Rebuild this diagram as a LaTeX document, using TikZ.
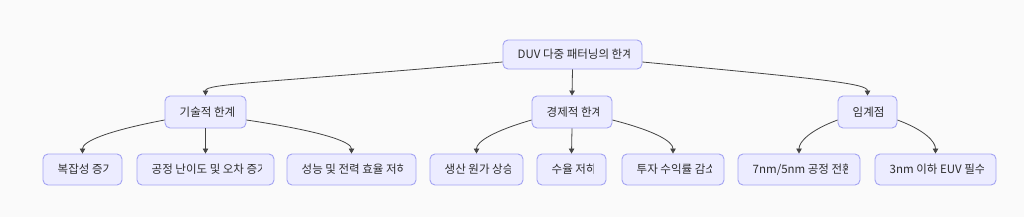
\documentclass[tikz,border=0pt]{standalone}
\usepackage{fontspec}
\setmainfont{Noto Sans CJK KR}
\usetikzlibrary{arrows.meta}
\definecolor{bgc}{HTML}{FAFAFA}
\definecolor{boxfill}{HTML}{ECECFF}
\definecolor{boxline}{HTML}{A3A3F2}
\definecolor{txtc}{HTML}{2E2E2E}
\definecolor{edgec}{HTML}{444444}
\tikzset{
  boxst/.style={draw=boxline, fill=boxfill, line width=0.9pt, rounded corners=5pt, inner sep=0pt},
  txt/.style={inner sep=0pt, text=txtc, font=\fontsize{11.5}{13.5}\selectfont},
  edge/.style={draw=edgec, line width=0.8pt, -{Triangle[length=5pt,width=5.5pt]}}
}
\newcommand{\dnode}[6]{%
  \pgfmathsetmacro\dw{#4-#2}\pgfmathsetmacro\dh{#5-#3}%
  \pgfmathsetmacro\dcx{(#2+#4)/2}\pgfmathsetmacro\dcy{(#3+#5)/2}%
  \node[boxst, minimum width=\dw pt, minimum height=\dh pt] (#1) at (\dcx,\dcy) {};
  \begin{scope}
    \clip (#2+14,#3) rectangle (#4-13,#5);
    \node[txt, anchor=west] at (#2+14.5,\dcy) {#6};
  \end{scope}}
\begin{document}
\begin{tikzpicture}[x=1pt,y=-1pt]
\useasboundingbox (0,0) rectangle (1024,217);
\fill[bgc] (0,0) rectangle (1024,217);
\dnode{top}{503}{40}{642}{69}{DUV 다중 패터닝의 한계}
\dnode{tech}{165}{96}{246}{128}{기술적 한계}
\dnode{econ}{532}{96}{612}{128}{경제적 한계}
\dnode{crit}{838}{96}{897}{128}{임계점}
\dnode{la}{43}{154}{122}{185}{복잡성 증가}
\dnode{lb}{137}{154}{274}{185}{공정 난이도 및 오차 증가}
\dnode{lc}{287}{154}{416}{185}{성능 및 전력 효율 저하}
\dnode{ld}{430}{154}{523}{185}{생산 원가 상승}
\dnode{le}{537}{154}{606}{185}{수율 저하}
\dnode{lf}{622}{154}{724}{185}{투자 수익률 감소}
\dnode{lg}{738}{154}{860}{185}{7nm/5nm 공정 전환}
\dnode{lh}{875}{154}{996}{185}{3nm 이하 EUV 필수}
% edges
\draw[edge] ([yshift=-7.5pt]top.west) .. controls +(-240,21) and +(0,-12) .. (tech.north);
\draw[edge] (top.south) -- (econ.north);
\draw[edge] ([yshift=-7.5pt]top.east) .. controls +(180,17) and +(0,-12) .. (crit.north);
\draw[edge] ([yshift=-8pt]tech.west) .. controls +(-58,11) and +(0,-12) .. (la.north);
\draw[edge] (tech.south) -- (lb.north);
\draw[edge] ([yshift=-8pt]tech.east) .. controls +(74,11) and +(0,-12) .. (lc.north);
\draw[edge] ([yshift=-8pt]econ.west) .. controls +(-38,11) and +(0,-12) .. (ld.north);
\draw[edge] (econ.south) -- (le.north);
\draw[edge] ([yshift=-8pt]econ.east) .. controls +(43,11) and +(0,-12) .. (lf.north);
\draw[edge] ([yshift=-8pt]crit.west) .. controls +(-27,10) and +(0,-12) .. (lg.north);
\draw[edge] ([yshift=-8pt]crit.east) .. controls +(27,10) and +(0,-12) .. (lh.north);
\end{tikzpicture}
\end{document}
